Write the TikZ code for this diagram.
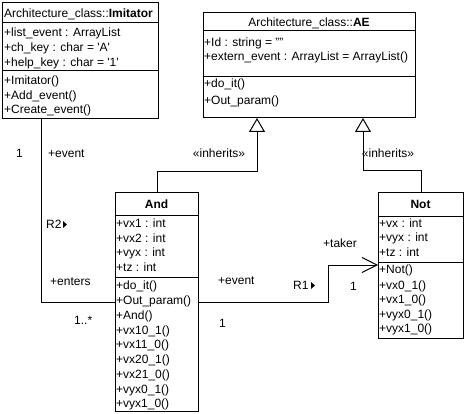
\documentclass[tikz,border=0pt]{standalone}
\usepackage{fontspec}
\setmainfont{Liberation Sans}
\usetikzlibrary{arrows.meta}
\tikzset{
  txt/.style={inner sep=0pt, anchor=base west, font=\fontsize{12}{14}\selectfont},
  ctxt/.style={inner sep=0pt, anchor=base, font=\fontsize{12}{14}\selectfont},
  classbox/.style={draw, line width=1pt, inner sep=0pt, anchor=north west},
  sep/.style={line width=1pt},
  assoc/.style={line width=1pt},
  inh/.style={line width=1pt, -{Triangle[open, length=14pt, width=16pt, line width=1pt]}},
  nav/.style={line width=1pt, -{Straight Barb[length=15pt, width=15pt, line width=1pt]}},
}
\begin{document}
\begin{tikzpicture}[x=1pt, y=-1pt]
\useasboundingbox (0,0) rectangle (465,414);
% ---------- class boxes ----------
\node[classbox, minimum width=156pt, minimum height=116pt] (imit) at (2,2) {};
\node[classbox, minimum width=212pt, minimum height=105pt] (ae) at (203,12) {};
\node[classbox, minimum width=83pt, minimum height=219pt] (and) at (115,192) {};
\node[classbox, minimum width=85pt, minimum height=146pt] (not) at (378,192) {};
% separators
\draw[sep] (imit.west |- 0,23) -- (imit.east |- 0,23);
\draw[sep] (imit.west |- 0,71) -- (imit.east |- 0,71);
\draw[sep] (ae.west |- 0,31) -- (ae.east |- 0,31);
\draw[sep] (ae.west |- 0,77) -- (ae.east |- 0,77);
\draw[sep] (and.west |- 0,215) -- (and.east |- 0,215);
\draw[sep] (and.west |- 0,277) -- (and.east |- 0,277);
\draw[sep] (not.west |- 0,216) -- (not.east |- 0,216);
\draw[sep] (not.west |- 0,262) -- (not.east |- 0,262);
% ---------- Imitator ----------
\node[txt] (t1) at (4,17.5) {Architecture\_class::\textbf{Imitator}};
\node[txt] (a1) at (4,36.5) {+list\_event : ArrayList};
\node[txt] (a2) at (4,51.5) {+ch\_key : char = \textquotesingle A\textquotesingle};
\node[txt] (a3) at (4,66.5) {+help\_key : char = \textquotesingle 1\textquotesingle};
\node[txt] (m1) at (4,85) {+Imitator()};
\node[txt] (m2) at (4,100) {+Add\_event()};
\node[txt] (m3) at (4,114) {+Create\_event()};
% ---------- AE ----------
\node[ctxt] (t2) at (309,27) {Architecture\_class::\textbf{AE}};
\node[txt] (b1) at (204,46.5) {+Id : string = ""};
\node[txt] (b2) at (204,60.5) {+extern\_event : ArrayList = ArrayList()};
\node[txt] (b3) at (204,87.5) {+do\_it()};
\node[txt] (b4) at (204,105) {+Out\_param()};
% ---------- And ----------
\node[ctxt] (t3) at (156.5,208) {\textbf{And}};
\node[txt] (c1) at (116,227.5) {+vx1 : int};
\node[txt] (c2) at (116,242.5) {+vx2 : int};
\node[txt] (c3) at (116,256.5) {+vyx : int};
\node[txt] (c4) at (116,271.5) {+tz : int};
\node[txt] (d1) at (116,289.5) {+do\_it()};
\node[txt] (d2) at (116,304.5) {+Out\_param()};
\node[txt] (d3) at (116,319) {+And()};
\node[txt] (d4) at (116,334) {+vx10\_1()};
\node[txt] (d5) at (116,348.5) {+vx11\_0()};
\node[txt] (d6) at (116,363.5) {+vx20\_1()};
\node[txt] (d7) at (116,378) {+vx21\_0()};
\node[txt] (d8) at (116,393) {+vyx0\_1()};
\node[txt] (d9) at (116,407.5) {+vyx1\_0()};
% ---------- Not ----------
\node[ctxt] (t4) at (420.5,208.5) {\textbf{Not}};
\node[txt] (e1) at (379,227.5) {+vx : int};
\node[txt] (e2) at (379,241.5) {+vyx : int};
\node[txt] (e3) at (379,256) {+tz : int};
\node[txt] (f1) at (379,273.5) {+Not()};
\node[txt] (f2) at (379,289) {+vx0\_1()};
\node[txt] (f3) at (379,303.5) {+vx1\_0()};
\node[txt] (f4) at (379,318) {+vyx0\_1()};
\node[txt] (f5) at (379,332) {+vyx1\_0()};
% ---------- connectors ----------
\coordinate (r2c) at (41,118);
\draw[assoc] (r2c) |- (and.west);
\coordinate (r1c) at (328,265);
\draw[assoc] (and.east) -| (r1c);
\draw[nav] (r1c) -- (r1c -| not.west);
\coordinate (ia) at (257,171);
\draw[inh] (and.north) |- (ia) -- (ia |- ae.south);
\coordinate (in) at (363,170);
\draw[inh] (not.north) |- (in) -- (in |- ae.south);
% ---------- labels ----------
\node[txt] (l1) at (16,157.5) {1};
\node[txt] (l2) at (48,157.5) {+event};
\node[ctxt] (l3) at (219,157.5) {«inherits»};
\node[ctxt] (l4) at (388,157.5) {«inherits»};
\node[txt] (l5) at (46,228.5) {R2};
\fill (63,221) -- (67,224.5) -- (63,228) -- cycle;
\node[txt] (l6) at (50,285.5) {+enters};
\node[txt] (l7) at (74,324.5) {1..*};
\node[txt] (l8) at (218,284.5) {+event};
\node[txt] (l9) at (219,327.5) {1};
\node[txt] (l10) at (293,289.5) {R1};
\fill (311,282) -- (315,285.5) -- (311,289) -- cycle;
\node[txt] (l11) at (323,247.5) {+taker};
\node[txt] (l12) at (350,290.5) {1};
\end{tikzpicture}
\end{document}
